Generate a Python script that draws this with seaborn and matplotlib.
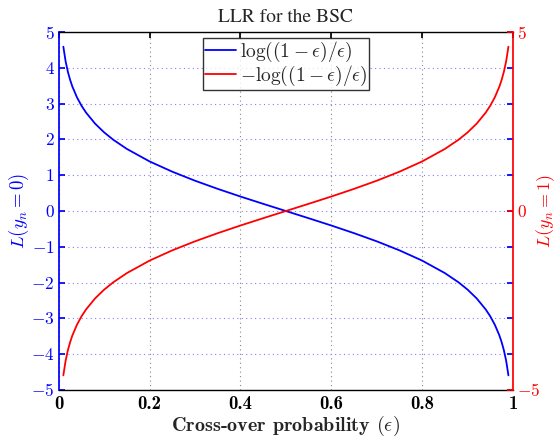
import matplotlib
matplotlib.use("Agg")
import matplotlib.pyplot as plt
import seaborn as sns
import pandas as pd
from matplotlib.lines import Line2D

eps = [0.01, 0.015, 0.02, 0.025, 0.03, 0.04, 0.05, 0.06, 0.08, 0.10, 0.12, 0.15,
       0.20, 0.25, 0.30, 0.35, 0.40, 0.45, 0.50, 0.55, 0.60, 0.65, 0.70, 0.75,
       0.80, 0.85, 0.88, 0.90, 0.92, 0.94, 0.95, 0.96, 0.97, 0.975, 0.98, 0.985, 0.99]
llr0 = [4.595, 4.185, 3.892, 3.664, 3.476, 3.178, 2.944, 2.752, 2.442, 2.197, 1.992, 1.735,
        1.386, 1.099, 0.847, 0.619, 0.405, 0.201, 0.0, -0.201, -0.405, -0.619, -0.847, -1.099,
        -1.386, -1.735, -1.992, -2.197, -2.442, -2.752, -2.944, -3.178, -3.476, -3.664, -3.892, -4.185, -4.595]
llr1 = [-4.595, -4.185, -3.892, -3.664, -3.476, -3.178, -2.944, -2.752, -2.442, -2.197, -1.992, -1.735,
        -1.386, -1.099, -0.847, -0.619, -0.405, -0.201, 0.0, 0.201, 0.405, 0.619, 0.847, 1.099,
        1.386, 1.735, 1.992, 2.197, 2.442, 2.752, 2.944, 3.178, 3.476, 3.664, 3.892, 4.185, 4.595]
legend_labels = [r"$\log((1-\epsilon)/\epsilon)$", r"$-\log((1-\epsilon)/\epsilon)$"]
xticks = [0, 0.2, 0.4, 0.6, 0.8, 1]
xticklabels = ["0", "0.2", "0.4", "0.6", "0.8", "1"]
yticks_left = list(range(-5, 6))
yticks_right = [-5, 0, 5]

sns.set_theme(style="white")
plt.rcParams["font.family"] = ["STIXGeneral", "DejaVu Serif"]
plt.rcParams["mathtext.fontset"] = "cm"

BLUE = "#0000ff"
RED = "#ff0000"

df = pd.DataFrame({"eps": eps, "l0": llr0, "l1": llr1})

fig = plt.figure(figsize=(5.6, 4.41), dpi=100)
ax = fig.add_axes([0.105, 0.116, 0.811, 0.811])
ax2 = ax.twinx()

sns.lineplot(data=df, x="eps", y="l0", ax=ax, color=BLUE, lw=1.3, estimator=None, sort=False)
sns.lineplot(data=df, x="eps", y="l1", ax=ax2, color=RED, lw=1.3, estimator=None, sort=False)

def mlabel(v):
    return r"$%d$" % v

ax.set_xlim(0, 1)
ax.set_ylim(-5, 5)
ax2.set_ylim(-5, 5)
ax.set_xticks(xticks)
ax.set_xticklabels(xticklabels, fontfamily="cmb10")
ax.set_yticks(yticks_left)
ax.set_yticklabels([mlabel(v) for v in yticks_left])
ax2.set_yticks(yticks_right)
ax2.set_yticklabels([mlabel(v) for v in yticks_right])

ax.tick_params(axis="x", direction="in", length=4, top=True, labelsize=13.5, colors="black", pad=4)
ax.tick_params(axis="y", direction="in", length=4, right=True, labelsize=12.5, colors=BLUE, pad=3)
ax2.tick_params(axis="y", direction="in", length=4, labelsize=12.5, colors=RED, pad=3)

for s in ["top", "bottom"]:
    ax.spines[s].set_color("black")
    ax.spines[s].set_linewidth(1.0)
ax.spines["left"].set_color(BLUE)
ax.spines["right"].set_visible(False)
ax2.spines["right"].set_color(RED)
ax2.spines["left"].set_visible(False)
ax2.spines["top"].set_visible(False)
ax2.spines["bottom"].set_visible(False)

ax.xaxis.grid(True, color="#888888", linestyle=(0, (1, 3)), linewidth=0.8)
ax.yaxis.grid(True, color="#8080ff", linestyle=(0, (1, 3)), linewidth=0.8)

ax.set_xlabel(r"Cross-over probability $(\epsilon)$", fontsize=14.5, fontfamily="cmb10", labelpad=0)
ax.set_ylabel(r"$L(y_n=0)$", fontsize=13.5, color=BLUE)
ax2.set_ylabel(r"$L(y_n=1)$", fontsize=13, color=RED)
ax.yaxis.set_label_coords(-0.062, 0.5)
ax2.yaxis.set_label_coords(1.048, 0.5)
ax.set_title("LLR for the BSC", fontsize=14, pad=7)

handles = [Line2D([], [], color=BLUE, lw=1.3), Line2D([], [], color=RED, lw=1.3)]
leg = ax2.legend(handles, legend_labels, loc="upper center", bbox_to_anchor=(0.5, 1.0),
                 fontsize=14, frameon=True, fancybox=False, borderpad=0.1,
                 handlelength=1.6, handletextpad=0.2, labelspacing=0.0, borderaxespad=0.3)
leg.get_frame().set_edgecolor("black")
leg.get_frame().set_linewidth(1.0)

fig.savefig("out.png", dpi=100)
